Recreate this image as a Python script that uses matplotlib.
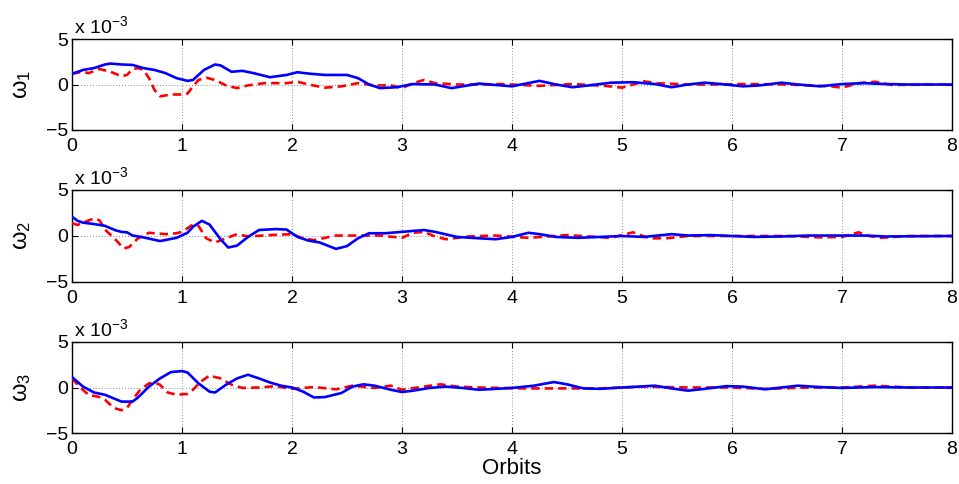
import numpy as np
import matplotlib
matplotlib.use("Agg")
import matplotlib.pyplot as plt

plt.rcParams['font.family'] = ['Liberation Sans', 'DejaVu Sans']
plt.rcParams['mathtext.fontset'] = 'custom'
plt.rcParams['mathtext.rm'] = 'Liberation Sans'
plt.rcParams['mathtext.it'] = 'Liberation Sans'
plt.rcParams['axes.unicode_minus'] = True

# angular rate components, in units of 1e-3
w1_ref_x = [0, 0.1, 0.2, 0.3, 0.35, 0.45, 0.55, 0.65, 0.75, 0.85, 0.95, 1.05, 1.1, 1.2, 1.3, 1.35,
            1.45, 1.55, 1.65, 1.8, 1.95, 2.05, 2.15, 2.3, 2.5, 2.6, 2.7, 2.8, 2.95, 3.1, 3.3, 3.45,
            3.55, 3.7, 4.0, 4.25, 4.4, 4.55, 4.7, 4.9, 5.1, 5.3, 5.45, 5.6, 5.75, 5.9, 6.1, 6.25,
            6.45, 6.6, 6.8, 7.0, 7.2, 7.4, 7.6, 8.0]
w1_ref_y = [1.17, 1.6, 1.8, 2.2, 2.3, 2.2, 2.15, 1.8, 1.6, 1.25, 0.7, 0.4, 0.5, 1.6, 2.2, 2.1,
            1.4, 1.5, 1.25, 0.8, 1.05, 1.35, 1.2, 1.05, 1.05, 0.7, 0, -0.4, -0.3, 0.05, 0, -0.4,
            -0.2, 0.1, -0.2, 0.4, 0, -0.3, -0.1, 0.2, 0.25, 0.05, -0.3, 0, 0.2, 0.05, -0.2, -0.1,
            0.2, 0, -0.2, 0.05, 0.15, 0.05, 0, 0]
w1_alt_x = [0, 0.1, 0.15, 0.25, 0.35, 0.45, 0.5, 0.55, 0.6, 0.65, 0.7, 0.75, 0.8, 0.9, 1.0, 1.05,
            1.1, 1.15, 1.22, 1.3, 1.4, 1.5, 1.6, 1.75, 1.95, 2.05, 2.15, 2.3, 2.45, 2.6, 2.75, 2.9,
            3.0, 3.1, 3.2, 3.3, 3.5, 3.7, 3.9, 4.25, 4.55, 4.85, 5.0, 5.2, 5.3, 5.6, 5.9, 6.1,
            6.5, 6.9, 7.0, 7.15, 7.3, 7.45, 8.0]
w1_alt_y = [1.2, 1.4, 1.25, 1.7, 1.4, 0.9, 1.05, 1.7, 1.8, 1.6, 0.7, -0.6, -1.3, -1.1, -1.1, -1.0,
            -0.2, 0.5, 0.75, 0.5, -0.1, -0.4, -0.1, 0.15, 0.15, 0.3, 0, -0.35, -0.2, 0.15, -0.1, -0.1,
            -0.4, 0.15, 0.5, 0.15, 0, 0, 0.05, -0.15, 0.05, -0.15, -0.35, 0.35, 0.15, 0, 0, 0.05,
            0, -0.2, -0.35, 0.15, 0.3, -0.05, 0]

w2_ref_x = [0, 0.05, 0.1, 0.2, 0.3, 0.4, 0.45, 0.5, 0.55, 0.65, 0.8, 0.95, 1.05, 1.1, 1.18, 1.25,
            1.35, 1.42, 1.5, 1.6, 1.7, 1.85, 1.95, 2.05, 2.15, 2.25, 2.4, 2.5, 2.6, 2.7, 2.85, 3.0,
            3.2, 3.3, 3.5, 3.7, 3.85, 4.0, 4.15, 4.25, 4.4, 4.6, 4.8, 5.0, 5.2, 5.45, 5.6, 5.8,
            6.0, 6.2, 6.45, 6.7, 7.0, 7.2, 7.4, 8.0]
w2_ref_y = [2.1, 1.65, 1.45, 1.3, 1.1, 0.6, 0.45, 0.4, 0.05, -0.15, -0.55, -0.2, 0.35, 1.0, 1.65, 1.25,
            -0.35, -1.25, -1.05, -0.1, 0.65, 0.75, 0.7, -0.1, -0.5, -0.7, -1.4, -1.1, -0.25, 0.3, 0.3, 0.45,
            0.65, 0.45, -0.1, -0.25, -0.35, -0.1, 0.35, 0.2, -0.1, -0.2, -0.1, 0, -0.1, 0.2, 0.05, 0.1,
            0, -0.1, -0.05, 0.05, 0.05, 0.05, -0.05, 0]
w2_alt_x = [0, 0.05, 0.12, 0.2, 0.25, 0.3, 0.4, 0.47, 0.52, 0.6, 0.7, 0.85, 0.95, 1.0, 1.1, 1.15,
            1.22, 1.3, 1.4, 1.5, 1.6, 1.8, 2.0, 2.1, 2.2, 2.3, 2.4, 2.6, 2.8, 3.0, 3.1, 3.2,
            3.3, 3.4, 3.6, 3.85, 4.15, 4.5, 4.9, 5.1, 5.25, 5.4, 5.6, 6.0, 6.5, 6.8, 7.0, 7.15,
            7.25, 7.35, 7.6, 8.0]
w2_alt_y = [1.4, 1.2, 1.55, 1.9, 1.7, 0.7, -0.45, -1.35, -1.2, -0.25, 0.35, 0.2, 0.3, 0.45, 1.25, 1.1,
            -0.25, -0.7, -0.25, 0.2, -0.05, 0.1, 0.2, -0.25, -0.45, -0.2, 0.05, 0.05, 0.05, -0.2, 0.35, 0.45,
            -0.05, -0.35, -0.05, 0.05, -0.2, 0.1, -0.2, 0.4, -0.25, -0.25, 0, 0, 0, -0.15, -0.1, 0.4,
            0, -0.2, 0, 0]

w3_ref_x = [0, 0.1, 0.2, 0.3, 0.4, 0.45, 0.55, 0.6, 0.7, 0.8, 0.9, 1.0, 1.05, 1.15, 1.25, 1.3,
            1.4, 1.5, 1.6, 1.7, 1.8, 1.9, 2.0, 2.1, 2.2, 2.3, 2.45, 2.55, 2.65, 2.75, 2.9, 3.0,
            3.1, 3.25, 3.4, 3.55, 3.7, 4.0, 4.2, 4.38, 4.5, 4.65, 4.8, 5.0, 5.3, 5.45, 5.6, 5.75,
            5.95, 6.1, 6.3, 6.45, 6.6, 6.8, 7.0, 7.3, 7.6, 8.0]
w3_ref_y = [1.15, 0.1, -0.55, -0.8, -1.3, -1.55, -1.55, -1.1, 0.1, 1.0, 1.7, 1.8, 1.65, 0.45, -0.45, -0.55,
            0.3, 1.0, 1.4, 1.0, 0.55, 0.2, 0, -0.45, -1.1, -1.05, -0.6, 0.1, 0.35, 0.2, -0.25, -0.5,
            -0.35, -0.05, 0.1, -0.05, -0.25, -0.05, 0.2, 0.6, 0.35, -0.1, -0.15, 0, 0.2, -0.1, -0.35, -0.15,
            0.15, 0.1, -0.2, 0, 0.2, 0.05, -0.05, 0.05, 0, 0]
w3_alt_x = [0, 0.08, 0.15, 0.25, 0.3, 0.38, 0.45, 0.5, 0.55, 0.62, 0.7, 0.75, 0.8, 0.87, 0.95, 1.05,
            1.1, 1.17, 1.25, 1.35, 1.45, 1.55, 1.7, 1.85, 2.0, 2.2, 2.4, 2.55, 2.75, 2.9, 3.0, 3.2,
            3.35, 3.5, 3.7, 4.1, 4.5, 4.8, 5.2, 5.6, 6.0, 6.3, 6.7, 7.0, 7.3, 7.6, 8.0]
w3_alt_y = [1.0, -0.05, -0.8, -1.05, -1.35, -2.25, -2.5, -2.25, -1.35, -0.25, 0.45, 0.55, 0.3, -0.55, -0.8, -0.7,
            -0.25, 0.65, 1.3, 1.0, 0.3, -0.05, 0, 0.15, -0.15, 0.05, -0.2, 0.2, -0.05, 0.2, -0.25, 0.1,
            0.35, 0.1, 0, -0.1, -0.1, -0.1, 0.1, 0, 0, -0.15, 0, 0, 0.2, 0, 0]

x_ticks = [0, 1, 2, 3, 4, 5, 6, 7, 8]
y_ticks = [-5, 0, 5]
y_labels = [r'$\omega_1$', r'$\omega_2$', r'$\omega_3$']
x_label = 'Orbits'
exp_label = r'x 10$^{-3}$'

panels = [
    (w1_ref_x, w1_ref_y, w1_alt_x, w1_alt_y),
    (w2_ref_x, w2_ref_y, w2_alt_x, w2_alt_y),
    (w3_ref_x, w3_ref_y, w3_alt_x, w3_alt_y),
]

W, H = 959, 484
fig = plt.figure(figsize=(W / 100, H / 100), dpi=100)
boxes = [(39, 130), (190, 282), (342, 433)]  # top/bottom edges in pixels
left_px, right_px = 72, 952

for i, ((bx, by, rx, ry), (top, bot)) in enumerate(zip(panels, boxes)):
    ax = fig.add_axes([left_px / W, 1 - bot / H, (right_px - left_px) / W, (bot - top) / H])
    ax.plot(rx, ry, color='#ff0000', lw=1.9, dashes=(3.2, 1.9), zorder=3,
            dash_joinstyle='round', dash_capstyle='butt')
    ax.plot(bx, by, color='#0000ff', lw=1.9, zorder=4, solid_joinstyle='round')
    ax.set_xlim(0, 8)
    ax.set_ylim(-5, 5)
    ax.set_xticks(x_ticks)
    ax.set_yticks(y_ticks)
    ax.grid(True, linestyle=(0, (1, 2.5)), color='#666666', lw=0.6)
    ax.tick_params(direction='in', length=4, width=0.8, top=True, right=True,
                   labelsize=14, colors='black')
    ax.tick_params(axis='x', pad=6)
    ax.tick_params(axis='y', pad=3)
    for s in ax.spines.values():
        s.set_linewidth(1.0)
    ax.set_ylabel(y_labels[i], fontsize=17, labelpad=9)
    ax.text(0.002, 1.02, exp_label, transform=ax.transAxes, fontsize=14,
            ha='left', va='bottom')
    if i == 2:
        ax.set_xlabel(x_label, fontsize=16, labelpad=0)

fig.savefig('out.png', dpi=100)
